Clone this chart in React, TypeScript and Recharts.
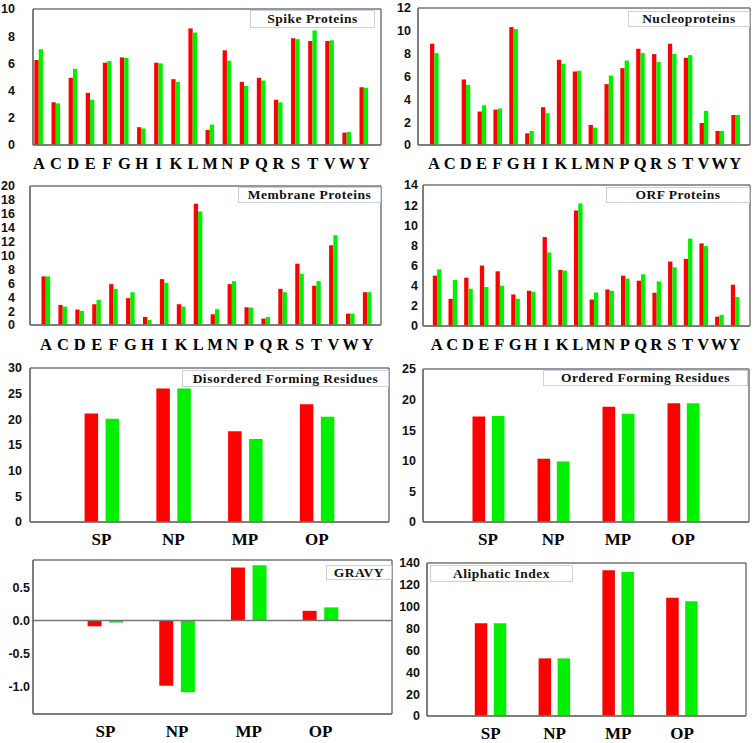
import React from 'react';
import { BarChart, Bar, XAxis, YAxis, ReferenceLine, CartesianGrid } from 'recharts';

const aminoAcids = ['A', 'C', 'D', 'E', 'F', 'G', 'H', 'I', 'K', 'L', 'M', 'N', 'P', 'Q', 'R', 'S', 'T', 'V', 'W', 'Y'];
const proteinGroups = ['SP', 'NP', 'MP', 'OP'];

const spikeRed = [6.25, 3.14, 4.94, 3.83, 6.05, 6.44, 1.31, 6.05, 4.84, 8.57, 1.11, 6.96, 4.64, 4.94, 3.33, 7.85, 7.65, 7.65, 0.91, 4.25];
const spikeGreen = [7.04, 3.06, 5.6, 3.33, 6.17, 6.4, 1.21, 6.0, 4.64, 8.27, 1.5, 6.2, 4.35, 4.74, 3.14, 7.78, 8.42, 7.7, 0.96, 4.2];

const nucleoRed = [8.87, 0, 5.74, 2.93, 3.1, 10.33, 1.02, 3.31, 7.46, 6.44, 1.76, 5.33, 6.73, 8.43, 7.96, 8.87, 7.64, 1.93, 1.23, 2.63];
const nucleoGreen = [8.05, 0, 5.27, 3.48, 3.2, 10.15, 1.23, 2.78, 7.11, 6.5, 1.52, 6.09, 7.4, 8.05, 7.29, 7.99, 7.87, 2.99, 1.23, 2.63];

const membraneRed = [6.99, 2.89, 2.22, 2.99, 5.88, 3.86, 1.16, 6.6, 2.99, 17.45, 1.54, 5.88, 2.55, 0.92, 5.2, 8.82, 5.64, 11.47, 1.64, 4.72];
const membraneGreen = [6.99, 2.65, 2.02, 3.61, 5.2, 4.72, 0.72, 6.07, 2.65, 16.34, 2.27, 6.31, 2.5, 1.16, 4.72, 7.37, 6.31, 12.92, 1.64, 4.72];

const orfRed = [5.0, 2.7, 4.8, 6.0, 5.43, 3.13, 3.5, 8.83, 5.57, 11.47, 2.63, 3.63, 5.0, 4.5, 3.3, 6.4, 6.67, 8.2, 0.93, 4.1];
const orfGreen = [5.63, 4.57, 3.7, 3.87, 4.0, 2.7, 3.4, 7.3, 5.5, 12.17, 3.33, 3.5, 4.7, 5.13, 4.43, 5.83, 8.67, 7.93, 1.1, 2.87];

const disorderedRed = [21.15, 26.0, 17.68, 22.92];
const disorderedGreen = [20.1, 26.0, 16.17, 20.5];
const orderedRed = [17.23, 10.34, 18.82, 19.42];
const orderedGreen = [17.34, 9.9, 17.67, 19.42];
const gravyRed = [-0.087, -0.99, 0.806, 0.148];
const gravyGreen = [-0.03, -1.09, 0.84, 0.2];
const aliphaticRed = [84.9, 52.7, 133.3, 108.1];
const aliphaticGreen = [84.9, 52.7, 131.7, 105.1];

const spikeTicks = [0, 2, 4, 6, 8, 10];
const nucleoTicks = [0, 2, 4, 6, 8, 10, 12];
const membraneTicks = [0, 2, 4, 6, 8, 10, 12, 14, 16, 18, 20];
const orfTicks = [0, 2, 4, 6, 8, 10, 12, 14];
const disorderedTicks = [0, 5, 10, 15, 20, 25, 30];
const orderedTicks = [0, 5, 10, 15, 20, 25];
const gravyTicks = [-1.0, -0.5, 0.0, 0.5];
const aliphaticTicks = [0, 20, 40, 60, 80, 100, 120, 140];

const titles = [
  'Spike Proteins',
  'Nucleoproteins',
  'Membrane Proteins',
  'ORF Proteins',
  'Disordered Forming Residues',
  'Ordered Forming Residues',
  'GRAVY',
  'Aliphatic Index',
];

const RED = '#ff0000';
const GREEN = '#00f000';
const FRAME = '#767676';

const build = (cats: string[], r: number[], g: number[]) =>
  cats.map((name, i) => ({ name, red: r[i], green: g[i] }));

type PanelProps = {
  data: any[];
  box: { x: number; y: number; w: number; h: number };
  plot: { l: number; r: number; t: number; b: number };
  domain: [number, number];
  ticks: number[];
  yTickMargin: number;
  xTickMargin: number;
  xFont: number;
  padding: { left: number; right: number };
  barSize: number;
  barGap: number;
  fmt?: (v: number) => string;
  zeroLine?: boolean;
  title: string;
  titleBox: { x: number; y: number; w: number; h: number };
};

function Panel(p: PanelProps) {
  const { box, plot } = p;
  const axisLine = { stroke: FRAME, strokeWidth: 1.5 };
  return (
    <>
      <div style={{ position: 'absolute', left: box.x, top: box.y }}>
        <BarChart
          width={box.w}
          height={box.h}
          data={p.data}
          margin={{ top: plot.t - box.y, right: box.x + box.w - plot.r, bottom: 0, left: 0 }}
          barGap={p.barGap}
        >
          <CartesianGrid
            stroke={FRAME}
            strokeWidth={1.5}
            strokeDasharray=""
            horizontalPoints={[plot.t - box.y, plot.b - box.y]}
            verticalPoints={[plot.l - box.x, plot.r - box.x]}
          />
          <XAxis
            dataKey="name"
            height={box.y + box.h - plot.b}
            padding={p.padding}
            interval={0}
            tickLine={false}
            tickSize={0}
            tickMargin={p.xTickMargin}
            axisLine={axisLine}
            tick={{ fontFamily: 'Liberation Serif', fontWeight: 'bold', fontSize: p.xFont, fill: '#000' }}
          />
          <YAxis
            width={plot.l - box.x}
            domain={p.domain}
            ticks={p.ticks}
            interval={0}
            tickLine={false}
            tickSize={0}
            tickMargin={p.yTickMargin}
            axisLine={axisLine}
            tickFormatter={p.fmt}
            tick={{ fontFamily: 'Liberation Sans', fontWeight: 'bold', fontSize: 12.5, fill: '#111' }}
          />
          {p.zeroLine && <ReferenceLine y={0} stroke={FRAME} strokeWidth={1.5} />}
          <Bar dataKey="red" fill={RED} barSize={p.barSize} isAnimationActive={false} />
          <Bar dataKey="green" fill={GREEN} barSize={p.barSize} isAnimationActive={false} />
        </BarChart>
      </div>
      <div
        style={{
          position: 'absolute',
          left: p.titleBox.x,
          top: p.titleBox.y,
          width: p.titleBox.w,
          height: p.titleBox.h,
          border: '1px solid #c8d0e2',
          background: '#fff',
          boxSizing: 'border-box',
          display: 'flex',
          alignItems: 'center',
          justifyContent: 'center',
          whiteSpace: 'nowrap',
          fontFamily: 'Liberation Serif',
          fontWeight: 'bold',
          fontSize: 13.5,
          letterSpacing: 0.5,
          color: '#111',
        }}
      >
        {p.title}
      </div>
    </>
  );
}

export default function App() {
  const fmt1 = (v: number) => v.toFixed(1);
  return (
    <div style={{ position: 'absolute', left: 0, top: 0, width: 755, height: 743, background: '#fff', overflow: 'hidden' }}>
      <Panel
        data={build(aminoAcids, spikeRed, spikeGreen)}
        box={{ x: 0, y: 0, w: 385, h: 178 }}
        plot={{ l: 33, r: 381, t: 9, b: 145 }}
        domain={[0, 10]}
        ticks={spikeTicks}
        yTickMargin={18}
        xTickMargin={12}
        xFont={16.5}
        padding={{ left: -2.6, right: 8.4 }}
        barSize={4.3}
        barGap={0}
        title={titles[0]}
        titleBox={{ x: 250, y: 10, w: 125, h: 18 }}
      />
      <Panel
        data={build(aminoAcids, nucleoRed, nucleoGreen)}
        box={{ x: 380, y: 0, w: 375, h: 178 }}
        plot={{ l: 418, r: 750, t: 8, b: 145 }}
        domain={[0, 12]}
        ticks={nucleoTicks}
        yTickMargin={7}
        xTickMargin={12}
        xFont={16.5}
        padding={{ left: 8, right: 6.8 }}
        barSize={4.3}
        barGap={0}
        title={titles[1]}
        titleBox={{ x: 628, y: 11, w: 122, h: 16 }}
      />
      <Panel
        data={build(aminoAcids, membraneRed, membraneGreen)}
        box={{ x: 0, y: 178, w: 385, h: 180 }}
        plot={{ l: 30, r: 381, t: 186, b: 325 }}
        domain={[0, 20]}
        ticks={membraneTicks}
        yTickMargin={15}
        xTickMargin={13}
        xFont={16.5}
        padding={{ left: 7.5, right: 5.2 }}
        barSize={4.3}
        barGap={0}
        title={titles[2]}
        titleBox={{ x: 238, y: 187, w: 143, h: 16 }}
      />
      <Panel
        data={build(aminoAcids, orfRed, orfGreen)}
        box={{ x: 380, y: 178, w: 375, h: 180 }}
        plot={{ l: 423, r: 750, t: 185, b: 326 }}
        domain={[0, 14]}
        ticks={orfTicks}
        yTickMargin={5}
        xTickMargin={12}
        xFont={16.5}
        padding={{ left: 5.8, right: 7.5 }}
        barSize={4.3}
        barGap={0}
        title={titles[3]}
        titleBox={{ x: 606, y: 187, w: 144, h: 16 }}
      />
      <Panel
        data={build(proteinGroups, disorderedRed, disorderedGreen)}
        box={{ x: 0, y: 358, w: 395, h: 190 }}
        plot={{ l: 30, r: 389, t: 368, b: 522 }}
        domain={[0, 30]}
        ticks={disorderedTicks}
        yTickMargin={8}
        xTickMargin={11}
        xFont={17}
        padding={{ left: 35.6, right: 36.4 }}
        barSize={13.5}
        barGap={7.5}
        title={titles[4]}
        titleBox={{ x: 182, y: 370, w: 207, h: 17 }}
      />
      <Panel
        data={build(proteinGroups, orderedRed, orderedGreen)}
        box={{ x: 395, y: 358, w: 360, h: 190 }}
        plot={{ l: 423, r: 749, t: 369, b: 522 }}
        domain={[0, 25]}
        ticks={orderedTicks}
        yTickMargin={7}
        xTickMargin={11}
        xFont={17}
        padding={{ left: 32.5, right: 33.5 }}
        barSize={12.7}
        barGap={6.6}
        title={titles[5]}
        titleBox={{ x: 543, y: 370, w: 205, h: 16 }}
      />
      <Panel
        data={build(proteinGroups, gravyRed, gravyGreen)}
        box={{ x: 0, y: 548, w: 395, h: 195 }}
        plot={{ l: 33, r: 392, t: 560, b: 714 }}
        domain={[-1.42, 0.92]}
        ticks={gravyTicks}
        yTickMargin={3}
        xTickMargin={11}
        xFont={17}
        padding={{ left: 36.6, right: 35.7 }}
        barSize={14}
        barGap={7.6}
        fmt={fmt1}
        zeroLine
        title={titles[6]}
        titleBox={{ x: 326, y: 565, w: 66, h: 15 }}
      />
      <Panel
        data={build(proteinGroups, aliphaticRed, aliphaticGreen)}
        box={{ x: 395, y: 548, w: 360, h: 195 }}
        plot={{ l: 427, r: 746, t: 563, b: 716 }}
        domain={[0, 140]}
        ticks={aliphaticTicks}
        yTickMargin={7}
        xTickMargin={11}
        xFont={17}
        padding={{ left: 31.8, right: 32 }}
        barSize={12.5}
        barGap={6.5}
        title={titles[7]}
        titleBox={{ x: 430, y: 565, w: 143, h: 17 }}
      />
    </div>
  );
}
